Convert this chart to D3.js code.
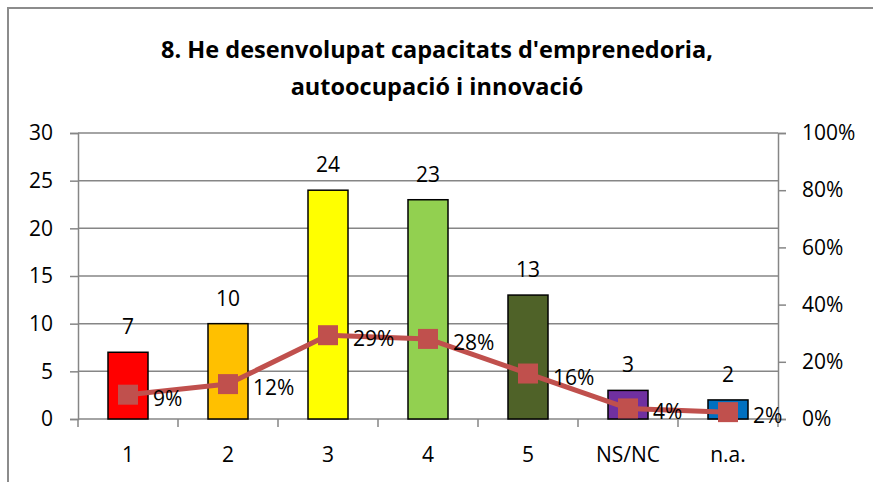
<!DOCTYPE html>
<html>
<head>
<meta charset="utf-8">
<script src="https://cdn.jsdelivr.net/npm/d3@7"></script>
<style>
  body { margin: 0; background: #fff; }
  svg text { font-family: "Open Sans", "Liberation Sans", sans-serif; fill: #000; }
</style>
</head>
<body>
<svg id="chart" width="873" height="482"></svg>
<script>
// chart data
const categories = ["1", "2", "3", "4", "5", "NS/NC", "n.a."];
const counts = [7, 10, 24, 23, 13, 3, 2];
const percents = [8.5, 12.2, 29.3, 28.0, 15.9, 3.7, 2.4];
const percentLabels = ["9%", "12%", "29%", "28%", "16%", "4%", "2%"];
const barColors = ["#FF0000", "#FFC000", "#FFFF00", "#92D050", "#4F6228", "#7030A0", "#0070C0"];
const leftTicks = [0, 5, 10, 15, 20, 25, 30];
const rightTicks = [0, 20, 40, 60, 80, 100];
const titleLines = ["8. He desenvolupat capacitats d'emprenedoria,", "autoocupació i innovació"];

const svg = d3.select("#chart");
const width = 873, height = 482;
const margin = { left: 78, right: 95, top: 133, bottom: 63 };
const plotW = width - margin.left - margin.right;
const plotH = height - margin.top - margin.bottom;

const gridColor = "#868686";
const fontSize = "21px";

// outer frame (only left and top visible)
svg.append("path")
  .attr("d", `M8,${height} L8,8 L${width},8`)
  .attr("fill", "none")
  .attr("stroke", "#8c8c8c")
  .attr("stroke-width", 2);

// title
svg.append("g")
  .selectAll("text")
  .data(titleLines)
  .enter()
  .append("text")
  .attr("x", 437)
  .attr("y", (d, i) => 58 + i * 37)
  .attr("text-anchor", "middle")
  .style("font-size", "23.5px")
  .style("font-weight", "bold")
  .text((d) => d);

const g = svg.append("g").attr("transform", `translate(${margin.left},${margin.top})`);

const x = d3.scaleBand().domain(categories).range([0, plotW]).paddingInner(0).paddingOuter(0);
const yL = d3.scaleLinear().domain([0, 30]).range([plotH, 0]);
const yR = d3.scaleLinear().domain([0, 100]).range([plotH, 0]);

// gridlines
g.append("g")
  .selectAll("line")
  .data(leftTicks.filter((t) => t > 0))
  .enter()
  .append("line")
  .attr("x1", 0)
  .attr("x2", plotW)
  .attr("y1", (d) => yL(d))
  .attr("y2", (d) => yL(d))
  .attr("stroke", gridColor)
  .attr("stroke-width", 1.5);

// left axis
const leftAxis = g.append("g")
  .call(d3.axisLeft(yL).tickValues(leftTicks).tickSize(8).tickPadding(17));
leftAxis.select(".domain").attr("stroke", gridColor).attr("stroke-width", 1.5);
leftAxis.selectAll(".tick line").attr("stroke", gridColor).attr("stroke-width", 1.5);
leftAxis.selectAll("text").style("font-size", fontSize).attr("font-family", null);

// right axis
const rightAxis = g.append("g")
  .attr("transform", `translate(${plotW},0)`)
  .call(d3.axisRight(yR).tickValues(rightTicks).tickSize(8).tickPadding(16).tickFormat((d) => d + "%"));
rightAxis.select(".domain").attr("stroke", gridColor).attr("stroke-width", 1.5);
rightAxis.selectAll(".tick line").attr("stroke", gridColor).attr("stroke-width", 1.5);
rightAxis.selectAll("text").style("font-size", fontSize).attr("font-family", null);

// bottom axis: ticks between categories
const bottom = g.append("g").attr("transform", `translate(0,${plotH})`);
bottom.append("line")
  .attr("x1", 0).attr("x2", plotW)
  .attr("stroke", gridColor).attr("stroke-width", 1.5);
bottom.selectAll(".btick")
  .data(categories.map((c) => x(c)).concat([plotW]))
  .enter()
  .append("line")
  .attr("class", "btick")
  .attr("x1", (d) => d).attr("x2", (d) => d)
  .attr("y1", 0).attr("y2", 8)
  .attr("stroke", gridColor).attr("stroke-width", 1.5);
bottom.selectAll(".blabel")
  .data(categories)
  .enter()
  .append("text")
  .attr("class", "blabel")
  .attr("x", (d) => x(d) + x.bandwidth() / 2)
  .attr("y", 43)
  .attr("text-anchor", "middle")
  .style("font-size", fontSize)
  .text((d) => d);

// bars
const barW = 40;
g.append("g")
  .selectAll("rect")
  .data(counts)
  .enter()
  .append("rect")
  .attr("x", (d, i) => x(categories[i]) + x.bandwidth() / 2 - barW / 2)
  .attr("y", (d) => yL(d))
  .attr("width", barW)
  .attr("height", (d) => plotH - yL(d))
  .attr("fill", (d, i) => barColors[i])
  .attr("stroke", "#000")
  .attr("stroke-width", 1.5);

// bar value labels
g.append("g")
  .selectAll("text")
  .data(counts)
  .enter()
  .append("text")
  .attr("x", (d, i) => x(categories[i]) + x.bandwidth() / 2)
  .attr("y", (d) => yL(d) - 18)
  .attr("text-anchor", "middle")
  .style("font-size", fontSize)
  .text((d) => d);

// percent line
const cx = (i) => x(categories[i]) + x.bandwidth() / 2;
const line = d3.line()
  .x((d, i) => cx(i))
  .y((d) => yR(d));

g.append("path")
  .datum(percents)
  .attr("d", line)
  .attr("fill", "none")
  .attr("stroke", "#C0504D")
  .attr("stroke-width", 5)
  .attr("stroke-linejoin", "round");

const markerSize = 20;
g.append("g")
  .selectAll("rect")
  .data(percents)
  .enter()
  .append("rect")
  .attr("x", (d, i) => cx(i) - markerSize / 2)
  .attr("y", (d) => yR(d) - markerSize / 2)
  .attr("width", markerSize)
  .attr("height", markerSize)
  .attr("fill", "#C0504D");

// percent labels (right of markers)
g.append("g")
  .selectAll("text")
  .data(percents)
  .enter()
  .append("text")
  .attr("x", (d, i) => cx(i) + 25)
  .attr("y", (d) => yR(d) + 11)
  .style("font-size", fontSize)
  .text((d, i) => percentLabels[i]);
</script>
</body>
</html>
